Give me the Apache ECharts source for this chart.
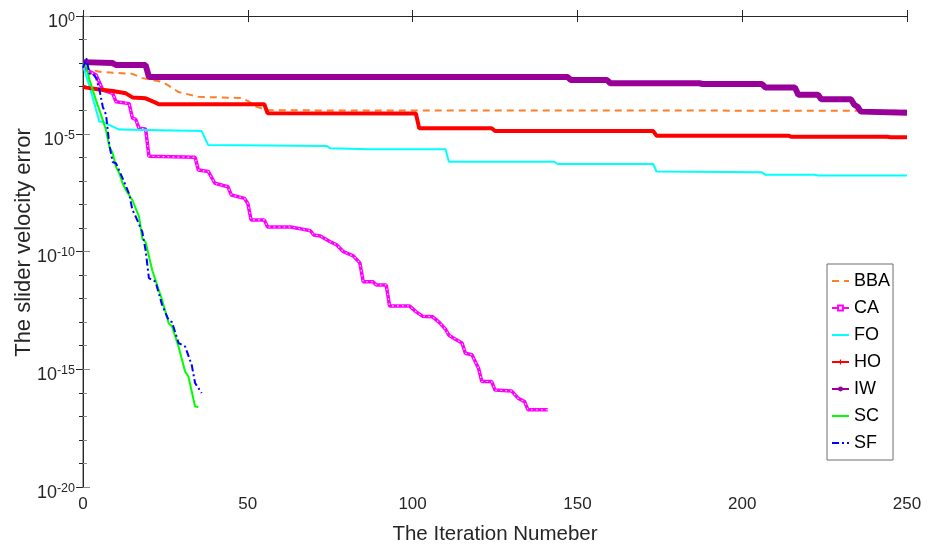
<!DOCTYPE html>
<html>
<head>
<meta charset="utf-8">
<script src="https://cdn.jsdelivr.net/npm/echarts@6/dist/echarts.min.js"></script>
<style>
  html, body { margin: 0; padding: 0; background: #fff; }
  #chart { width: 928px; height: 556px; }
</style>
</head>
<body>
<div id="chart"></div>
<script>
// Algorithm names, in plotting order
const seriesNames = ['BBA', 'CA', 'FO', 'HO', 'IW', 'SC', 'SF'];

// Axis ticks
const xTicks = [0, 50, 100, 150, 200, 250];
const yExponents = [-20, -15, -10, -5, 0];

// Best slider velocity error per iteration: [iteration, error]
const BBA = [[0, 6.2e-3], [5, 4.3e-3], [15, 3.5e-3], [18, 2.3e-3], [24, 1.6e-3], [26, 1.1e-3],
  [29, 5.9e-4], [35, 3.7e-4], [48, 3.3e-4], [50, 2.5e-4], [52, 1.5e-4], [56, 1.0e-4],
  [72, 9.8e-5], [250, 9.5e-5]];

const CA = [[0, 6.3e-3], [4, 3.1e-3], [6, 7.2e-4], [9, 5.2e-4], [10, 2.3e-4], [14, 1.9e-4],
  [15, 4.6e-5], [16, 4.1e-5], [17, 1.7e-5], [19, 1.6e-5], [20, 1.1e-6], [34, 1.0e-6],
  [35, 2.9e-7], [38, 2.5e-7], [40, 7.9e-8], [44, 5.6e-8], [45, 2.5e-8], [49, 1.8e-8],
  [50, 1.1e-8], [51, 2.2e-9], [55, 2.2e-9], [56, 1.1e-9], [63, 1.1e-9], [65, 9.8e-10],
  [69, 7.6e-10], [70, 5.0e-10], [72, 4.6e-10], [75, 2.6e-10], [77, 1.9e-10], [79, 9.8e-11],
  [82, 6.5e-11], [84, 3.3e-11], [85, 5.2e-12], [88, 5.2e-12], [89, 3.8e-12], [92, 3.8e-12],
  [93, 4.9e-13], [99, 4.9e-13], [101, 2.8e-13], [103, 1.8e-13], [106, 1.7e-13], [108, 1.0e-13],
  [110, 5.0e-14], [111, 2.8e-14], [113, 1.9e-14], [115, 1.3e-14], [116, 4.8e-15], [118, 4.1e-15],
  [120, 1.1e-15], [121, 3.0e-16], [124, 3.0e-16], [125, 1.3e-16], [130, 1.2e-16], [132, 5.9e-17],
  [134, 4.2e-17], [135, 1.9e-17], [141, 1.9e-17]];

const FO = [[0, 7.9e-3], [2, 1.0e-3], [4, 1.0e-4], [5, 3.2e-5], [6, 3.2e-5], [11, 1.5e-5],
  [36, 1.3e-5], [38, 3.3e-6], [74, 3.0e-6], [75, 2.4e-6], [87, 2.2e-6], [110, 2.2e-6],
  [111, 6.5e-7], [143, 6.5e-7], [144, 5.2e-7], [173, 5.2e-7], [174, 2.5e-7], [206, 2.3e-7],
  [207, 1.8e-7], [222, 1.8e-7], [223, 1.7e-7], [250, 1.7e-7]];

const HO = [[0, 1.0e-3], [1, 9.1e-4], [5, 7.6e-4], [9, 6.5e-4], [13, 5.2e-4], [15, 3.5e-4],
  [19, 3.2e-4], [22, 2.1e-4], [23, 1.8e-4], [55, 1.8e-4], [56, 7.4e-5], [101, 7.2e-5],
  [102, 1.7e-5], [124, 1.7e-5], [125, 1.3e-5], [173, 1.3e-5], [174, 8.3e-6], [214, 8.3e-6],
  [215, 7.4e-6], [244, 7.4e-6], [245, 7.1e-6], [250, 7.1e-6]];

const IW = [[0, 1.1e-2], [9, 1.0e-2], [10, 8.3e-3], [19, 8.3e-3], [20, 2.6e-3], [147, 2.6e-3],
  [148, 1.9e-3], [159, 1.9e-3], [160, 1.4e-3], [187, 1.4e-3], [188, 1.3e-3], [206, 1.3e-3],
  [207, 9.3e-4], [216, 9.3e-4], [217, 4.5e-4], [223, 4.5e-4], [224, 2.9e-4], [233, 2.9e-4],
  [234, 1.7e-4], [235, 1.4e-4], [236, 8.7e-5], [250, 7.8e-5]];

const SC = [[0, 1.0e-2], [1, 7.1e-3], [2, 1.9e-3], [4, 2.5e-4], [5, 1.0e-4], [6, 3.8e-5],
  [7, 1.4e-5], [8, 2.8e-6], [9, 1.5e-6], [10, 4.0e-7], [11, 2.1e-7], [12, 7.9e-8],
  [13, 4.1e-8], [15, 1.5e-8], [17, 3.0e-9], [18, 3.5e-10], [19, 2.5e-10], [21, 1.6e-11],
  [24, 8.7e-13], [26, 8.9e-14], [27, 6.5e-14], [29, 9.1e-15], [31, 7.9e-16], [32, 4.8e-16],
  [34, 2.6e-17], [35, 2.5e-17]];

const SF = [[0, 6.3e-3], [1, 1.6e-2], [2, 3.5e-3], [3, 3.5e-3], [4, 2.3e-3], [5, 7.2e-4],
  [6, 1.4e-4], [7, 6.3e-5], [8, 3.3e-6], [9, 6.3e-7], [10, 5.6e-7], [12, 1.3e-7],
  [13, 6.0e-8], [14, 2.8e-8], [15, 5.8e-9], [16, 3.0e-9], [18, 6.8e-10], [19, 1.1e-10],
  [20, 7.4e-12], [22, 5.2e-12], [24, 5.4e-13], [26, 1.2e-13], [27, 1.0e-13], [29, 1.3e-14],
  [31, 9.1e-15], [33, 1.5e-15], [34, 2.6e-16], [36, 9.8e-17]];

const curves = { BBA, CA, FO, HO, IW, SC, SF };

// Drawing style per algorithm
const styles = {
  BBA: { color: '#FF7F27', width: 2,   type: [7, 5],       symbol: 'circle',    marker: false },
  CA:  { color: '#FF00FF', width: 3.5, type: 'solid',      symbol: 'emptyRect', marker: true },
  FO:  { color: '#00FFFF', width: 2,   type: 'solid',      symbol: 'circle',    marker: false },
  HO:  { color: '#FF0000', width: 4,   type: 'solid',
         symbol: 'path://M3,0H5V3H8V5H5V8H3V5H0V3H3Z', marker: true },
  IW:  { color: '#990099', width: 6,   type: 'solid',      symbol: 'circle',    marker: true },
  SC:  { color: '#00FF00', width: 2,   type: 'solid',      symbol: 'circle',    marker: false },
  SF:  { color: '#0000FF', width: 2,   type: [7, 3, 2, 3], symbol: 'circle',    marker: false }
};

const FONT = "'Liberation Sans', Arial, Helvetica, sans-serif";
const AXIS_DARK = '#262626';

// Errors are plotted on a decade scale (log10 of the value)
const toDecade = pts => pts.map(([it, err]) => [it, Math.log10(err)]);

const series = [];
seriesNames.forEach(name => {
  const st = styles[name];
  series.push({
    name,
    type: 'line',
    xAxisIndex: 0,
    yAxisIndex: 0,
    data: toDecade(curves[name]),
    symbol: st.symbol,
    showSymbol: false,
    lineStyle: { color: st.color, width: st.width, type: st.type },
    itemStyle: { color: st.color },
    emphasis: { disabled: true },
    silent: true
  });
  if (name === 'CA') {
    // hollow square markers along the CA curve: white centres on the magenta band
    series.push({
      name: 'CA hollow',
      type: 'line',
      xAxisIndex: 0,
      yAxisIndex: 0,
      data: toDecade(CA),
      showSymbol: false,
      lineStyle: { color: '#ffffff', width: 1.1, type: [1.6, 3.4], opacity: 0.9 },
      emphasis: { disabled: true },
      silent: true
    });
  }
});

const yLabel = v => (yExponents.indexOf(v) >= 0 ? '{b|10}{e|' + v + '}' : '');

const chart = echarts.init(document.getElementById('chart'), null, { renderer: 'canvas' });
chart.setOption({
  animation: false,
  backgroundColor: '#fff',
  textStyle: { fontFamily: FONT },
  grid: { left: 83, right: 21, top: 16, bottom: 69, containLabel: false, outerBoundsMode: 'none' },
  xAxis: [{
    type: 'value', min: xTicks[0], max: xTicks[xTicks.length - 1], interval: 50,
    name: 'The Iteration Numeber', nameLocation: 'middle', nameGap: 37, nameMoveOverlap: false,
    nameTextStyle: { fontSize: 20.5, color: AXIS_DARK, fontFamily: FONT },
    axisLine: { show: true, lineStyle: { color: AXIS_DARK, width: 1 } },
    axisTick: { show: true, inside: true, length: 6, lineStyle: { color: AXIS_DARK } },
    axisLabel: { fontSize: 17, color: AXIS_DARK, margin: 9, fontFamily: FONT },
    splitLine: { show: false }
  }, {
    type: 'value', position: 'top', min: xTicks[0], max: xTicks[xTicks.length - 1], interval: 50,
    axisLine: { show: true, lineStyle: { color: AXIS_DARK, width: 1 } },
    axisTick: { show: true, inside: true, length: 6, lineStyle: { color: AXIS_DARK } },
    axisLabel: { show: false },
    splitLine: { show: false }
  }],
  yAxis: [{
    type: 'value', min: -20, max: 0, interval: 5,
    name: 'The slider velocity error', nameLocation: 'middle', nameGap: 48, nameMoveOverlap: false,
    nameTextStyle: { fontSize: 22, color: AXIS_DARK, fontFamily: FONT, padding: [0, 0, 0, 18] },
    axisLine: { show: true, lineStyle: { color: '#a8a8a8', width: 2 } },
    axisTick: { show: true, inside: true, length: 7, lineStyle: { color: '#8a8a8a' } },
    minorTick: { show: true, splitNumber: 5, length: 4, lineStyle: { color: '#8a8a8a' } },
    axisLabel: {
      margin: 8, formatter: yLabel, padding: [10, 0, 0, 0],
      rich: {
        b: { fontSize: 18, color: AXIS_DARK, fontFamily: FONT, lineHeight: 20,
             padding: [4, 0, 0, 0], verticalAlign: 'bottom' },
        e: { fontSize: 12.5, color: AXIS_DARK, fontFamily: FONT, lineHeight: 12, verticalAlign: 'top' }
      }
    },
    splitLine: { show: false }
  }, {
    type: 'value', position: 'right', min: -20, max: 0, interval: 5,
    axisLine: { show: true, lineStyle: { color: AXIS_DARK, width: 1 } },
    axisTick: { show: true, inside: true, length: 7, lineStyle: { color: AXIS_DARK } },
    minorTick: { show: true, splitNumber: 5, length: 4, lineStyle: { color: AXIS_DARK } },
    axisLabel: { show: false },
    splitLine: { show: false }
  }],
  legend: {
    orient: 'vertical', left: 827, top: 264,
    padding: [8, 3, 8, 4],
    itemWidth: 17, itemHeight: 6, itemGap: 9,
    backgroundColor: '#fff', borderColor: '#6e6e6e', borderWidth: 1, borderRadius: 0,
    textStyle: { fontSize: 18, lineHeight: 18, color: '#000', fontFamily: FONT },
    lineStyle: { width: 2 },
    selectedMode: false,
    data: seriesNames.map(name => ({
      name,
      itemStyle: styles[name].marker ? {} : { opacity: 0 }
    }))
  },
  series
});
</script>
</body>
</html>
